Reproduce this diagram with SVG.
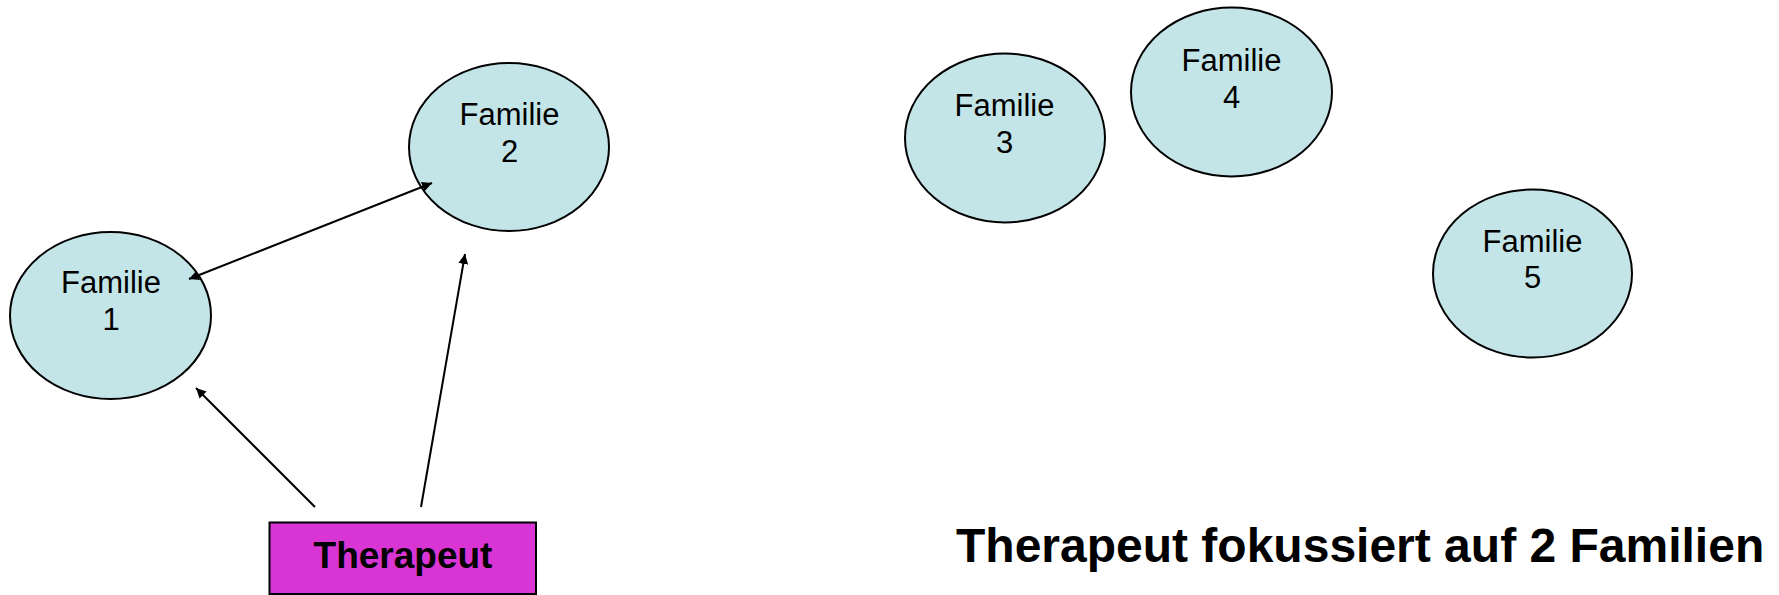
<svg xmlns="http://www.w3.org/2000/svg" width="1779" height="595" viewBox="0 0 1779 595">
<style>
.fam ellipse{fill:#c4e5e8;stroke:#000;stroke-width:2}
.fam text{font-family:"Liberation Sans",Arial,sans-serif;font-size:31px;text-anchor:middle;fill:#000}
.con line{stroke:#000;stroke-width:2}
.thr rect{fill:#d935d5;stroke:#000;stroke-width:2}
.thr text{font-family:"Liberation Sans",Arial,sans-serif;font-size:37px;font-weight:bold;text-anchor:middle;fill:#000}
.title{font-family:"Liberation Sans",Arial,sans-serif;font-size:48px;font-weight:bold;fill:#000}
</style>
<defs>
<marker id="ah" viewBox="0 0 10 10" refX="10" refY="5" markerWidth="5" markerHeight="5" orient="auto-start-reverse" markerUnits="strokeWidth">
<path d="M0,0 L10,5 L0,10 z" fill="#000"/>
</marker>
</defs>
<rect width="1779" height="595" fill="#fff"/>
<g id="familie1" class="fam">
<ellipse cx="110.5" cy="315.5" rx="100.5" ry="83.5"/>
<text x="111" y="293">Familie</text>
<text x="111" y="330">1</text>
</g>
<g id="familie2" class="fam">
<ellipse cx="509" cy="147" rx="100" ry="84"/>
<text x="509.5" y="125">Familie</text>
<text x="509.5" y="161.5">2</text>
</g>
<g id="familie3" class="fam">
<ellipse cx="1005" cy="138" rx="100" ry="84.5"/>
<text x="1004.5" y="115.5">Familie</text>
<text x="1004.5" y="152.5">3</text>
</g>
<g id="familie4" class="fam">
<ellipse cx="1231.5" cy="92" rx="100.5" ry="84.5"/>
<text x="1231.5" y="70.5">Familie</text>
<text x="1231.5" y="107.5">4</text>
</g>
<g id="familie5" class="fam">
<ellipse cx="1532.5" cy="273.5" rx="99.5" ry="84"/>
<text x="1532.5" y="251.5">Familie</text>
<text x="1532.5" y="288">5</text>
</g>
<g id="therapeut" class="thr">
<rect x="269.5" y="522.5" width="266.5" height="71.5"/>
<text x="403" y="568">Therapeut</text>
</g>
<g id="connectors" class="con">
<line x1="189" y1="279" x2="432" y2="183" marker-start="url(#ah)" marker-end="url(#ah)"/>
<line x1="315" y1="507" x2="196" y2="388" marker-end="url(#ah)"/>
<line x1="421" y1="507" x2="465" y2="254" marker-end="url(#ah)"/>
</g>
<text class="title" x="956" y="562">Therapeut fokussiert auf 2 Familien</text>
</svg>
